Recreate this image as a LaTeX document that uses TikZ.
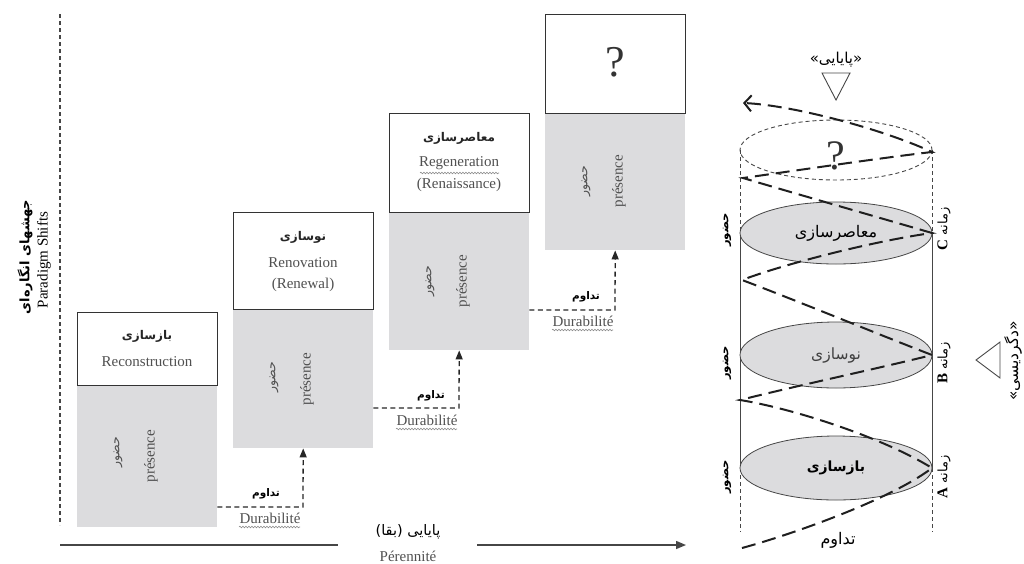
\documentclass[tikz,border=0pt]{standalone}
\usepackage{fontspec}
\setmainfont{Liberation Serif}
\newfontfamily\farsi[Script=Arabic]{DejaVu Sans}
\TeXXeTstate=1
\usetikzlibrary{arrows.meta,decorations.pathmorphing,shapes.geometric}
\definecolor{boxgray}{RGB}{220,220,222}
\definecolor{txtgray}{RGB}{80,80,80}
\definecolor{linegray}{RGB}{70,70,70}
\begin{document}
\begin{tikzpicture}[x=1pt,y=-1pt,
  graybox/.style={fill=boxgray,draw=none,minimum width=140pt,inner sep=0pt,anchor=north west},
  whitebox/.style={fill=white,draw=black!80,line width=1.2pt,minimum width=140pt,inner sep=0pt,anchor=north west},
  fatitle/.style={font=\farsi\bfseries\fontsize{12}{14}\selectfont,text=black!85,inner sep=0pt},
  entxt/.style={font=\fontsize{15}{17}\selectfont,text=txtgray,inner sep=0pt},
  hozur/.style={font=\farsi\fontsize{12.5}{14}\selectfont,text=txtgray,rotate=90,inner sep=0pt},
  presence/.style={font=\fontsize{15}{17}\selectfont,text=txtgray,rotate=90,inner sep=0pt},
  conn/.style={dash pattern=on 5pt off 3.5pt,line width=1.3pt,draw=black!85,-{Triangle[length=9pt,width=7pt]}},
  tadavom/.style={font=\farsi\bfseries\fontsize{10.5}{12}\selectfont,inner sep=0pt},
  durab/.style={font=\fontsize{15}{17}\selectfont,text=txtgray,inner sep=0pt},
  wavy/.style={draw=black!45,line width=0.6pt,decorate,decoration={snake,amplitude=0.8pt,segment length=3pt}},
  spiral/.style={line width=2pt,draw=black!88,dash pattern=on 14pt off 7pt},
  cyl/.style={draw=linegray,line width=0.9pt},
  cyldash/.style={draw=linegray,line width=0.9pt,dash pattern=on 4pt off 3pt},
  ell/.style={fill=boxgray,draw=linegray,line width=0.8pt,ellipse},
  sidefa/.style={font=\farsi\bfseries\fontsize{11.5}{13}\selectfont,rotate=90,inner sep=0pt},
  zamane/.style={font=\farsi\fontsize{13}{15}\selectfont,rotate=90,inner sep=0pt}
]
\useasboundingbox (0,0) rectangle (1024,563);

% ---- left axis and label
\coordinate (vtop) at (60,14);
\coordinate (vbot) at (60,525);
\draw[draw=linegray,line width=1.1pt,dash pattern=on 4pt off 3pt] (vtop) -- (vbot);
\node[rotate=90,font=\farsi\bfseries\fontsize{13}{15}\selectfont,inner sep=0pt] (psfa) at (25,257) {\beginR جهشهای انگاره‌ای\endR};
\node[rotate=90,font=\fontsize{15}{17}\selectfont,inner sep=0pt] (psen) at (44,260) {Paradigm Shifts};

% ---- bottom axis
\coordinate (ax0) at (60,545);
\coordinate (ax1) at (338,545);
\coordinate (ax2) at (477,545);
\coordinate (ax3) at (686,545);
\draw[draw=linegray,line width=1.5pt] (ax0) -- (ax1);
\draw[draw=linegray,line width=1.5pt,-{Triangle[length=10pt,width=8pt]}] (ax2) -- (ax3);
\node[font=\farsi\fontsize{14.5}{16}\selectfont,inner sep=0pt] (peren-fa) at (408,532) {\beginR پایایی (بقا)\endR};
\node[entxt] (peren-en) at (408,556) {Pérennité};

% ---- boxes (gray lower part, white upper part)
\node[graybox,minimum height=142pt] (g1) at (77,385) {};
\node[whitebox,minimum height=73pt] (w1) at (77,312) {};
\node[graybox,minimum height=139pt] (g2) at (233,309) {};
\node[whitebox,minimum height=97pt] (w2) at (233,212) {};
\node[graybox,minimum height=138pt] (g3) at (389,212) {};
\node[whitebox,minimum height=99pt] (w3) at (389,113) {};
\node[graybox,minimum height=137pt] (g4) at (545,113) {};
\node[whitebox,minimum height=99pt] (w4) at (545,14) {};

% box texts
\node[fatitle] (t1fa) at (147,336) {\beginR بازسازی\endR};
\node[entxt] (t1en) at (147,362) {Reconstruction};
\node[fatitle] (t2fa) at (303,237) {\beginR نوسازی\endR};
\node[entxt] (t2en) at (303,263) {Renovation};
\node[entxt] (t2en2) at (303,285) {(Renewal)};
\node[fatitle] (t3fa) at (459,138) {\beginR معاصرسازی\endR};
\node[entxt] (t3en) at (459,163) {Regeneration};
\node[entxt] (t3en2) at (459,185) {(Renaissance)};
\node[font=\fontsize{44}{48}\selectfont,text=black!80,inner sep=0pt] (t4) at (615,62) {?};
\draw[wavy] (420,173) -- (499,173);

% presence texts
\node[hozur] (h1) at (118,452) {\beginR حضور\endR};
\node[presence] (p1) at (151,456) {présence};
\node[hozur] (h2) at (274,377) {\beginR حضور\endR};
\node[presence] (p2) at (307,379) {présence};
\node[hozur] (h3) at (430,281) {\beginR حضور\endR};
\node[presence] (p3) at (463,281) {présence};
\node[hozur] (h4) at (586,181) {\beginR حضور\endR};
\node[presence] (p4) at (619,181) {présence};

% ---- connectors (Durabilite)
\coordinate (c1) at (303,507);
\coordinate (c2) at (459,408);
\coordinate (c3) at (615,310);
\draw[conn] (g1.east |- c1) -- (c1) -- (g2.south);
\draw[conn] (g2.east |- c2) -- (c2) -- (g3.south);
\draw[conn] (g3.east |- c3) -- (c3) -- (g4.south);
\node[tadavom] (d1fa) at (266,494) {\beginR تداوم\endR};
\node[durab] (d1en) at (270,518) {Durabilité};
\node[tadavom] (d2fa) at (431,396) {\beginR تداوم\endR};
\node[durab] (d2en) at (427,420) {Durabilité};
\node[tadavom] (d3fa) at (586,297) {\beginR تداوم\endR};
\node[durab] (d3en) at (583,321) {Durabilité};
\draw[wavy] (239,527) -- (300,527);
\draw[wavy] (396,429) -- (457,429);
\draw[wavy] (552,330) -- (613,330);

% ---- cylinder
\draw[cyldash] (836,150) ellipse [x radius=96, y radius=30];
\node[font=\fontsize{42}{46}\selectfont,text=black!80,inner sep=0pt] (qm) at (836,156) {?};
\draw[cyldash] (740,150) -- (740,233);
\draw[cyldash] (932,150) -- (932,233);
\draw[cyl] (740,233) -- (740,468);
\draw[cyl] (932,233) -- (932,468);
\draw[cyldash] (740,468) -- (740,532);
\draw[cyldash] (932,468) -- (932,532);
\node[ell,minimum width=192pt,minimum height=62pt,inner sep=0pt] (eC) at (836,233) {};
\node[ell,minimum width=192pt,minimum height=66pt,inner sep=0pt] (eB) at (836,355) {};
\node[ell,minimum width=192pt,minimum height=64pt,inner sep=0pt] (eA) at (836,468) {};
\node[font=\farsi\fontsize{16}{18}\selectfont,inner sep=0pt] (eCt) at (eC) {\beginR معاصرسازی\endR};
\node[font=\farsi\fontsize{15.5}{18}\selectfont,inner sep=0pt,text=black!75] (eBt) at (eB) {\beginR نوسازی\endR};
\node[font=\farsi\bfseries\fontsize{14}{16}\selectfont,inner sep=0pt] (eAt) at (eA) {\beginR بازسازی\endR};

% spiral
\coordinate (S) at (742,548);
\coordinate (R1) at (932,468);
\coordinate (L1) at (740,400);
\coordinate (R2) at (932,355);
\coordinate (L2) at (742,280);
\coordinate (R3) at (932,233);
\coordinate (L3) at (743,178);
\coordinate (R4) at (932,152);
\coordinate (E) at (743,103);
\draw[spiral,-{Straight Barb[length=7pt,width=16pt,line width=2pt]}]
  (S) .. controls (790,535) and (890,500) .. (R1)
      .. controls (880,436) and (790,408) .. (L1)
      .. controls (800,385) and (880,368) .. (R2)
      .. controls (880,335) and (790,298) .. (L2)
      .. controls (790,262) and (880,240) .. (R3)
      .. controls (870,215) and (790,192) .. (L3)
      .. controls (800,170) and (880,158) .. (R4)
      .. controls (880,128) and (790,105) .. (E);

% side labels
\node[sidefa] (hz1) at (727,230) {\beginR حضور\endR};
\node[sidefa] (hz2) at (727,363) {\beginR حضور\endR};
\node[sidefa] (hz3) at (727,477) {\beginR حضور\endR};
\node[zamane] (zC) at (944,229) {\beginR زمانه {\rmfamily\bfseries\fontsize{15}{17}\selectfont C}\endR};
\node[zamane] (zB) at (944,363) {\beginR زمانه {\rmfamily\bfseries\fontsize{15}{17}\selectfont B}\endR};
\node[zamane] (zA) at (944,477) {\beginR زمانه {\rmfamily\bfseries\fontsize{15}{17}\selectfont A}\endR};
\node[font=\farsi\fontsize{16}{18}\selectfont,inner sep=0pt] (tadC) at (838,540) {\beginR تداوم\endR};

% top label and triangle
\node[font=\farsi\fontsize{15}{17}\selectfont,inner sep=0pt] (payai) at (836,60) {\beginR «پایایی»\endR};
\draw[draw=linegray,line width=0.9pt] (822,73) -- (850,73) -- (836,100) -- cycle;
% right label and triangle
\draw[draw=linegray,line width=0.9pt] (976,360) -- (1000,342) -- (1000,378) -- cycle;
\node[font=\farsi\fontsize{15.5}{17}\selectfont,rotate=90,inner sep=0pt] (degar) at (1013,361) {\beginR «دگردیسی»\endR};
\end{tikzpicture}
\end{document}
